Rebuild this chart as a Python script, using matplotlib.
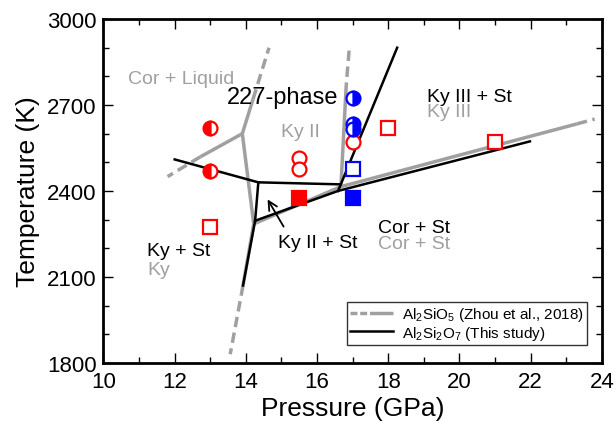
import matplotlib
matplotlib.use("Agg")
import matplotlib.pyplot as plt
from matplotlib.lines import Line2D

plt.rcParams['font.family'] = ['Liberation Sans', 'DejaVu Sans']
plt.rcParams['mathtext.fontset'] = 'custom'
plt.rcParams['mathtext.rm'] = 'Liberation Sans'
plt.rcParams['mathtext.it'] = 'Liberation Sans:italic'

# --- experimental points (P in GPa, T in K) ---
red_osq_P = [13.0, 18.0, 21.0]
red_osq_T = [2275, 2620, 2570]
red_fsq_P = [15.5]
red_fsq_T = [2375]
red_ocirc_P = [15.5, 15.5, 17.0]
red_ocirc_T = [2515, 2475, 2570]
red_half_P = [13.0, 13.0]
red_half_T = [2620, 2470]
blue_half_P = [17.0, 17.0, 17.0]
blue_half_T = [2725, 2635, 2615]
blue_osq_P = [17.0]
blue_osq_T = [2475]
blue_fsq_P = [17.0]
blue_fsq_T = [2375]

# --- Al2SiO5 boundaries (Zhou et al., 2018) ---
gray_solid = [
    ([13.9, 12.72], [2600, 2519]),
    ([13.9, 14.2], [2600, 2720]),
    ([13.9, 14.22], [2600, 2285]),
    ([14.22, 13.92], [2285, 2070]),
    ([16.82, 16.67], [2770, 2415]),
    ([14.22, 16.67, 23.3], [2285, 2415, 2634]),
]
gray_dashed = [
    ([12.72, 11.8], [2519, 2450]),
    ([14.2, 14.65], [2720, 2900]),
    ([13.92, 13.56], [2070, 1830]),
    ([16.9, 16.82], [2890, 2770]),
    ([23.3, 23.8], [2634, 2651]),
]

# --- Al2Si2O7 boundaries (this study) ---
black_lines = [
    ([12.0, 14.35], [2510, 2430]),
    ([14.35, 16.65], [2430, 2423]),
    ([14.35, 14.26], [2430, 2296]),
    ([14.26, 16.59, 21.98], [2296, 2400, 2573]),
    ([18.25, 16.59], [2900, 2400]),
    ([14.26, 13.92], [2296, 2070]),
]

gray = '#a0a0a0'

fig, ax = plt.subplots(figsize=(6.16, 4.27), dpi=100)
fig.subplots_adjust(left=0.168, right=0.977, bottom=0.148, top=0.953)

for p, t in gray_solid:
    ax.plot(p, t, color=gray, lw=2.5, solid_capstyle='butt')
for p, t in gray_dashed:
    ax.plot(p, t, color=gray, lw=2.5, dashes=(3, 1.6))
for p, t in black_lines:
    ax.plot(p, t, color='black', lw=1.8)

ms_c = 10
ms_s = 9.5
mew = 1.6
ax.plot(red_osq_P, red_osq_T, 's', ms=ms_s, mfc='white', mec='red', mew=mew, ls='none')
ax.plot(red_fsq_P, red_fsq_T, 's', ms=ms_s, mfc='red', mec='red', mew=mew, ls='none')
ax.plot(red_ocirc_P, red_ocirc_T, 'o', ms=ms_c, mfc='white', mec='red', mew=mew, ls='none')
ax.plot(red_half_P, red_half_T, 'o', ms=ms_c, fillstyle='left', mfc='red',
        markerfacecoloralt='white', mec='red', mew=mew, ls='none')
ax.plot(blue_half_P, blue_half_T, 'o', ms=ms_c, fillstyle='right', mfc='blue',
        markerfacecoloralt='white', mec='blue', mew=mew, ls='none')
ax.plot(blue_osq_P, blue_osq_T, 's', ms=ms_s, mfc='white', mec='blue', mew=mew, ls='none')
ax.plot(blue_fsq_P, blue_fsq_T, 's', ms=ms_s, mfc='blue', mec='blue', mew=mew, ls='none')

# phase labels
fs = 14
ax.text(12.17, 2791, 'Cor + Liquid', color=gray, fontsize=fs, ha='center', va='center')
ax.text(15.02, 2728, '227-phase', color='black', fontsize=17, ha='center', va='center')
ax.text(15.52, 2609, 'Ky II', color=gray, fontsize=fs, ha='center', va='center')
ax.text(19.1, 2731, 'Ky III + St', color='black', fontsize=fs, ha='left', va='center')
ax.text(19.1, 2676, 'Ky III', color=gray, fontsize=fs, ha='left', va='center')
ax.text(17.72, 2271, 'Cor + St', color='black', fontsize=fs, ha='left', va='center')
ax.text(17.72, 2215, 'Cor + St', color=gray, fontsize=fs, ha='left', va='center')
ax.text(11.22, 2191, 'Ky + St', color='black', fontsize=fs, ha='left', va='center')
ax.text(11.22, 2125, 'Ky', color=gray, fontsize=fs, ha='left', va='center')
ax.text(16.03, 2219, 'Ky II + St', color='black', fontsize=fs, ha='center', va='center')
ax.annotate('', xy=(14.57, 2379), xytext=(15.1, 2267),
            arrowprops=dict(arrowstyle='->', color='black', lw=1.3, mutation_scale=16))

ax.set_xlim(10, 24)
ax.set_ylim(1800, 3000)
ax.set_xticks(range(10, 25, 2))
ax.set_xticks(range(10, 25, 1), minor=True)
ax.set_yticks(range(1800, 3001, 300))
ax.set_yticks(range(1800, 3001, 100), minor=True)
ax.tick_params(which='both', direction='in', top=True, right=True, labelsize=16)
ax.tick_params(which='major', length=7, width=1)
ax.tick_params(which='minor', length=4, width=1)
ax.tick_params(axis='x', which='major', pad=6)
ax.tick_params(axis='y', which='major', pad=5)
for s in ax.spines.values():
    s.set_linewidth(2)
ax.set_xlabel('Pressure (GPa)', fontsize=19, labelpad=3)
ax.set_ylabel('Temperature (K)', fontsize=19, labelpad=5)

handles = [
    Line2D([], [], color=gray, lw=2.5, dashes=(2, 0.8, 2, 0.8, 8, 0.8)),
    Line2D([], [], color='black', lw=1.8),
]
labels = [r'Al$_2$SiO$_5$ (Zhou et al., 2018)', r'Al$_2$Si$_2$O$_7$ (This study)']
leg = ax.legend(handles, labels, loc='lower right', bbox_to_anchor=(0.985, 0.03),
                fontsize=11, frameon=True, fancybox=False, edgecolor='black',
                handlelength=2.8, handletextpad=0.6, borderpad=0.2, labelspacing=0.05)
leg.get_frame().set_linewidth(1.0)

plt.savefig('out.png', dpi=100)
